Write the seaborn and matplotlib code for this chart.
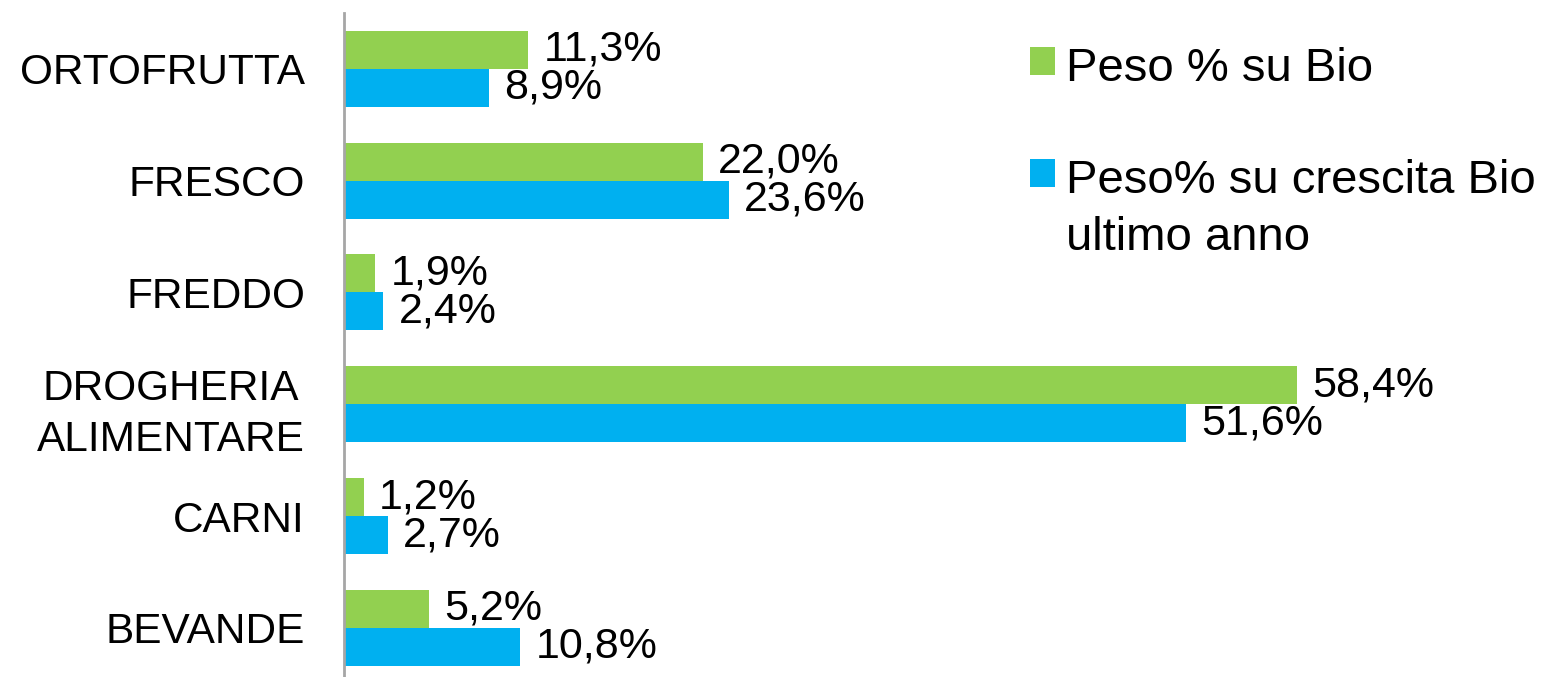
import matplotlib
matplotlib.use("Agg")
import matplotlib.pyplot as plt
import seaborn as sns
import pandas as pd

categorie = ["ORTOFRUTTA", "FRESCO", "FREDDO", "DROGHERIA\nALIMENTARE", "CARNI", "BEVANDE"]
serie = ["Peso % su Bio", "Peso% su crescita Bio\nultimo anno"]
peso_bio = [11.3, 22.0, 1.9, 58.4, 1.2, 5.2]
peso_crescita = [8.9, 23.6, 2.4, 51.6, 2.7, 10.8]
colori = ["#92D050", "#00B0F0"]

df = pd.DataFrame({
    "categoria": categorie * 2,
    "valore": peso_bio + peso_crescita,
    "serie": [serie[0]] * len(categorie) + [serie[1]] * len(categorie),
})

sns.set_style("white")
plt.rcParams["font.family"] = ["Liberation Sans", "DejaVu Sans"]
plt.rcParams["text.color"] = "black"
plt.rcParams["ytick.color"] = "black"

W, H = 1548, 677
fig = plt.figure(figsize=(W / 100, H / 100), dpi=100)
ax = fig.add_axes([344 / W, 0, (W - 344) / W, 664 / H])

sns.barplot(data=df, y="categoria", x="valore", hue="serie", orient="h",
            palette=colori, width=0.68, saturation=1, linewidth=0,
            legend=True, ax=ax)

ax.set_xlim(0, 73.8)
ax.set_ylim(5.44, -0.5)
ax.set_xlabel("")
ax.set_ylabel("")
ax.set_xticks([])
for s in ["top", "right", "bottom"]:
    ax.spines[s].set_visible(False)
ax.spines["left"].set_color("#A6A6A6")
ax.spines["left"].set_linewidth(2)
ax.tick_params(axis="y", length=0, pad=28, labelsize=30.5, labelcolor="black")
for t in ax.get_yticklabels():
    t.set_multialignment("center")
    t.set_linespacing(1.36)

for cont in ax.containers:
    vals = [b.get_width() for b in cont]
    ax.bar_label(cont, labels=[f"{v:.1f}".replace(".", ",") + "%" for v in vals],
                 padding=11, fontsize=31, color="black")

handles, labels = ax.get_legend_handles_labels()
ax.get_legend().remove()
leg = fig.legend(handles, labels, loc="upper left", bbox_to_anchor=(1030 / W, 1 - 47 / H),
                 frameon=False, fontsize=34, handlelength=0.52, handleheight=0.52,
                 handletextpad=0.25, labelspacing=1.45, borderpad=0, borderaxespad=0)
for t in leg.get_texts():
    t.set_color("black")
    t.set_linespacing(1.36)
# keep each square level with the first line of its label
for row in leg._legend_handle_box.get_children()[0].get_children():
    row.align = "top"

fig.savefig("out.png", dpi=100)
